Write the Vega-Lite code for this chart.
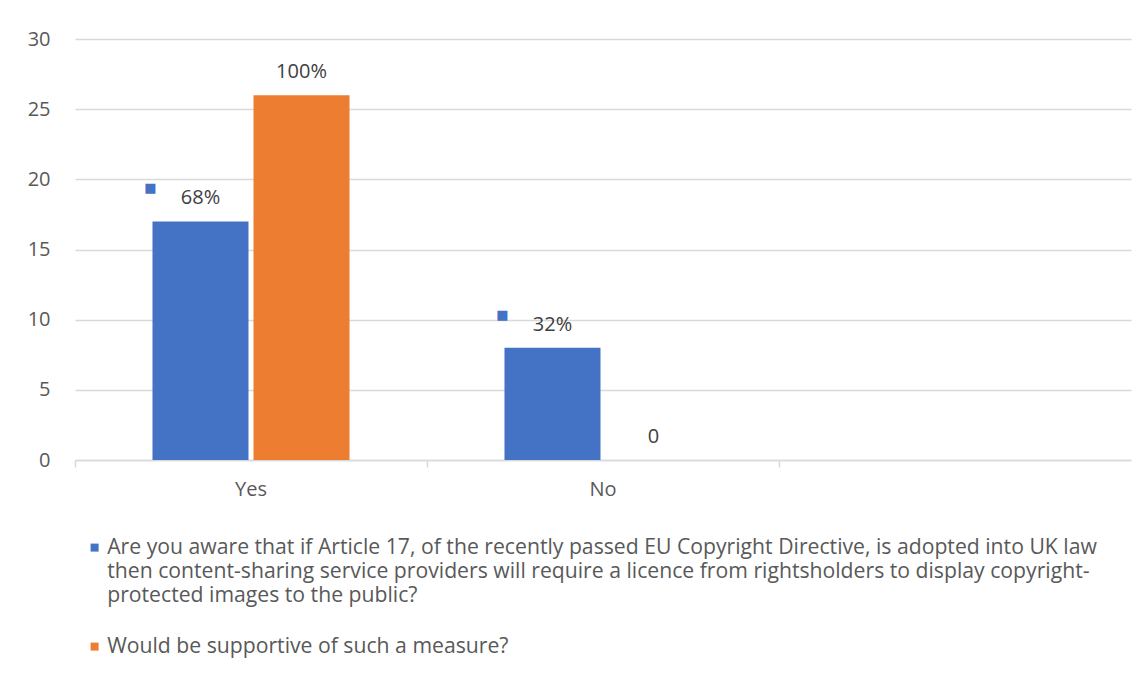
{
  "$schema": "https://vega.github.io/schema/vega-lite/v6.json",
  "autosize": "none",
  "width": 1056,
  "height": 421,
  "padding": {"left": 75, "top": 39, "right": 17, "bottom": 216},
  "background": "white",
  "data": {
    "values": [
      {"answer": "Yes", "series": "Are you aware that if Article 17, of the recently passed EU Copyright Directive, is adopted into UK law then content-sharing service providers will require a licence from rightsholders to display copyright-protected images to the public?", "value": 17, "label": "68%"},
      {"answer": "Yes", "series": "Would be supportive of such a measure?", "value": 26, "label": "100%"},
      {"answer": "No", "series": "Are you aware that if Article 17, of the recently passed EU Copyright Directive, is adopted into UK law then content-sharing service providers will require a licence from rightsholders to display copyright-protected images to the public?", "value": 8, "label": "32%"},
      {"answer": "No", "series": "Would be supportive of such a measure?", "value": 0, "label": "0"}
    ]
  },
  "encoding": {
    "x": {
      "field": "answer",
      "type": "nominal",
      "scale": {"domain": ["Yes", "No", " "], "paddingInner": 0, "paddingOuter": 0},
      "axis": {
        "title": null,
        "labelAngle": 0,
        "bandPosition": 0,
        "labelFont": "Open Sans",
        "labelFontSize": 20,
        "labelColor": "#595959",
        "labelPadding": 12,
        "tickColor": "#d9d9d9",
        "tickSize": 7,
        "tickWidth": 1.5,
        "domainColor": "#d9d9d9",
        "domainWidth": 1.5
      }
    },
    "xOffset": {
      "field": "series",
      "type": "nominal",
      "scale": {"paddingInner": 0.0495, "paddingOuter": 0.767}
    },
    "y": {
      "field": "value",
      "type": "quantitative",
      "scale": {"domain": [0, 30]},
      "axis": {
        "title": null,
        "values": [0, 5, 10, 15, 20, 25, 30],
        "ticks": false,
        "domain": false,
        "labelFont": "Open Sans",
        "labelFontSize": 20,
        "labelColor": "#595959",
        "labelPadding": 25,
        "gridColor": "#d9d9d9",
        "gridWidth": 1.5
      }
    }
  },
  "layer": [
    {
      "mark": {"type": "bar"},
      "encoding": {
        "color": {
          "field": "series",
          "type": "nominal",
          "scale": {"range": ["#4472C4", "#ED7D31"]},
          "legend": {
            "title": null,
            "orient": "none",
            "legendX": 9,
            "legendY": 498,
            "direction": "vertical",
            "symbolType": "square",
            "symbolSize": 64,
            "symbolStrokeWidth": 0,
            "labelFont": "Open Sans",
            "labelFontSize": 21.2,
            "labelColor": "#595959",
            "labelLimit": 1100,
            "labelOffset": 2,
            "labelBaseline": "middle",
            "rowPadding": 29,
            "labelExpr": "indexof(datum.label, 'Are you') == 0 ? ['Are you aware that if Article 17, of the recently passed EU Copyright Directive, is adopted into UK law', 'then content-sharing service providers will require a licence from rightsholders to display copyright-', 'protected images to the public?'] : datum.label"
          }
        }
      }
    },
    {
      "mark": {"type": "text", "dy": -23, "font": "Open Sans", "fontSize": 20, "color": "#404040"},
      "encoding": {"text": {"field": "label"}}
    },
    {
      "transform": [{"filter": "indexof(datum.series, 'Are you') == 0"}],
      "mark": {"type": "text", "text": "■", "dy": -33, "dx": -50, "font": "DejaVu Sans", "fontSize": 13, "color": "#4472C4"},
      "encoding": {}
    }
  ],
  "config": {
    "view": {"stroke": null},
    "style": {"guide-label": {"lineHeight": 24}}
  }
}
